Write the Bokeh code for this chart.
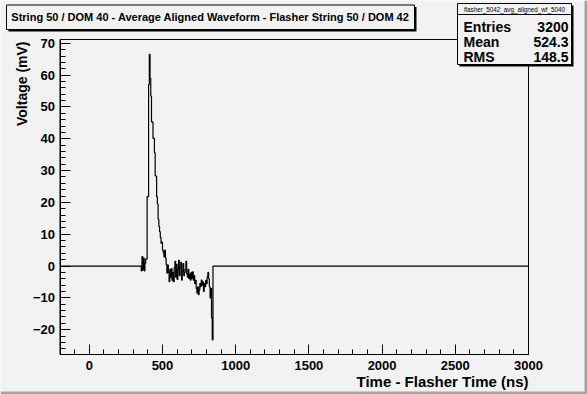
from bokeh.plotting import figure
from bokeh.models import FixedTicker, Label, BoxAnnotation, LinearAxis
from bokeh.embed import file_html
from bokeh.resources import INLINE

# ---- data ----
time_ns = [-200, 350, 355, 360, 365, 370, 375, 380, 385, 390,
           395, 400, 405, 410, 415, 420, 425, 430, 435, 440,
           445, 450, 455, 460, 465, 470, 475, 480, 485, 490,
           495, 500, 505, 510, 515, 520, 525, 530, 535, 540,
           545, 550, 555, 560, 565, 570, 575, 580, 585, 590,
           595, 600, 605, 610, 615, 620, 625, 630, 635, 640,
           645, 650, 655, 660, 665, 670, 675, 680, 685, 690,
           695, 700, 705, 710, 715, 720, 725, 730, 735, 740,
           745, 750, 755, 760, 765, 770, 775, 780, 785, 790,
           795, 800, 805, 810, 815, 820, 825, 830, 835, 840,
           845, 3000]
voltage_mv = [0, 0, -1.5, 3.0, -1.2, 2.5, -1.5, 0.8, 2.2, 2.2,
              21.8, 21.8, 57.0, 66.5, 59.0, 53.4, 45.3, 45.3, 40.1, 40.1,
              35.6, 28.3, 28.3, 21.8, 19.5, 14.7, 12.5, 10.8, 9.0, 7.2,
              7.5, 5.0, 4.2, 2.9, 5.0, 2.5, 0.5, -2.2, 0.3, -2.0,
              -4.9, -1.0, -3.5, -0.8, -4.5, -2.0, -4.9, -0.5, 1.5, -3.5,
              0.5, -4.2, -1.0, 1.8, -3.0, -0.5, 1.2, -4.4, -1.5, 0.8,
              -3.0, -2.0, -1.0, 1.5, -2.5, -3.5, -1.0, -4.0, -2.5, -4.4,
              -2.0, -3.8, -1.8, -4.4, -3.0, -5.5, -4.5, -7.0, -8.5, -6.5,
              -9.0, -7.5, -5.5, -6.5, -4.4, -6.0, -5.0, -8.0, -5.5, -6.5,
              -4.5, -5.5, -3.4, -2.0, -4.0, -6.5, -10.0, -7.0, -16.3, -23.2,
              0, 0]

x_lo, x_hi = -200, 3000          # histogram axis range
y_lo, y_hi = -27.8, 71.2         # displayed voltage range
x_major_ticks = [0, 500, 1000, 1500, 2000, 2500, 3000]
x_minor_ticks = list(range(-200, 3001, 100))
y_major_ticks = [-20, -10, 0, 10, 20, 30, 40, 50, 60, 70]
y_minor_ticks = list(range(-26, 71, 2))

title_text = "String 50 / DOM 40 - Average Aligned Waveform - Flasher String 50 / DOM 42"
x_title = "Time - Flasher Time (ns)"
y_title = "Voltage (mV)"
stats_name = "flasher_5042_avg_aligned_wf_5040"
stats_labels = ["Entries", "Mean", "RMS"]
stats_values = ["3200", "524.3", "148.5"]

# ---- layout (pixels) ----
W, H = 587, 394
FL, FR, FT, FB = 59.5, 528, 39, 354
BG = "#f2f2f2"
FONT = "Liberation Sans"

kx = (FR - FL) / (x_hi - x_lo)
ky = (FB - FT) / (y_hi - y_lo)
xr = (x_lo - FL / kx, x_hi + (W - FR) / kx)
yr = (y_lo - (H - FB) / ky, y_hi + FT / ky)

p = figure(width=W, height=H, x_range=xr, y_range=yr,
           x_axis_type=None, y_axis_type=None,
           output_backend="svg", toolbar_location=None,
           min_border_left=0, min_border_right=0, min_border_top=0, min_border_bottom=0,
           background_fill_color=BG, border_fill_color=BG, outline_line_color=None)
p.title.visible = False
p.grid.visible = False

# frame box of the histogram
p.add_layout(BoxAnnotation(left=x_lo, right=x_hi, bottom=y_lo, top=y_hi,
                           fill_alpha=0, line_color="black", line_alpha=1.0, line_width=1))

p.step(x=time_ns, y=voltage_mv, mode="after", line_color="black", line_width=1.2)

xaxis = LinearAxis(fixed_location=y_lo, bounds=(x_lo, x_hi),
                   ticker=FixedTicker(ticks=x_major_ticks, minor_ticks=x_minor_ticks))
yaxis = LinearAxis(fixed_location=x_lo, bounds=(y_lo, y_hi),
                   ticker=FixedTicker(ticks=y_major_ticks, minor_ticks=y_minor_ticks))
for ax in (xaxis, yaxis):
    ax.major_label_text_font = FONT
    ax.major_label_text_font_style = "bold"
    ax.major_label_text_font_size = "13px"
    ax.major_label_text_color = "black"
    ax.axis_line_color = "black"
    ax.major_tick_line_color = "black"
    ax.minor_tick_line_color = "black"
    ax.major_tick_in = 10
    ax.major_tick_out = 0
    ax.minor_tick_in = 5
    ax.minor_tick_out = 0
xaxis.major_label_standoff = 6
yaxis.major_label_standoff = 5
p.add_layout(xaxis, "below")
p.add_layout(yaxis, "left")


# page coords (X, Y) -> screen units (frame == whole canvas, y measured upward)
def sx(X):
    return X


def sy(Y):
    return H - Y


def box(x0, y0, x1, y1, fill, line=None, lw=1):
    b = BoxAnnotation(left=sx(x0), right=sx(x1), top=sy(y0), bottom=sy(y1),
                      left_units="screen", right_units="screen",
                      top_units="screen", bottom_units="screen",
                      fill_color=fill, fill_alpha=1.0,
                      line_color=line if line else fill, line_width=lw,
                      line_alpha=1.0 if line else 0.0)
    p.add_layout(b)


def label(X, Y, text, size, align="left", angle=0, style="bold"):
    lb = Label(x=sx(X), y=sy(Y), x_units="screen", y_units="screen", text=text,
               text_font=FONT, text_font_style=style, text_font_size=size,
               text_align=align, text_baseline="middle", angle=angle, text_color="black")
    p.add_layout(lb)


# axis titles
label(528, 381, x_title, "15px", align="right")
label(21, 41, y_title, "14px", align="right", angle=1.5708)

# title box with shadow
box(8, 6.5, 416, 31, "black")
box(6, 4.5, 414, 29, BG, "black")
label(210, 16.5, title_text, "11px", align="center")

# stats box with shadow
box(459, 5, 573, 66, "black")
box(457, 3, 571, 64, BG, "black")
box(457, 14, 571, 14.01, "black", "black")
label(514, 8.5, stats_name, "6.3px", align="center", style="normal")
rows_y = [26.5, 41.5, 56.5]
for lab, val, yy in zip(stats_labels, stats_values, rows_y):
    label(463, yy, lab, "14px", align="left")
    label(568, yy, val, "14px", align="right")

# canvas bevel (right and bottom)
box(584, 0, 587, 394, "#a3a3a3")
box(0, 391, 587, 394, "#a3a3a3")

open("out.html", "w").write(file_html(p, INLINE))
